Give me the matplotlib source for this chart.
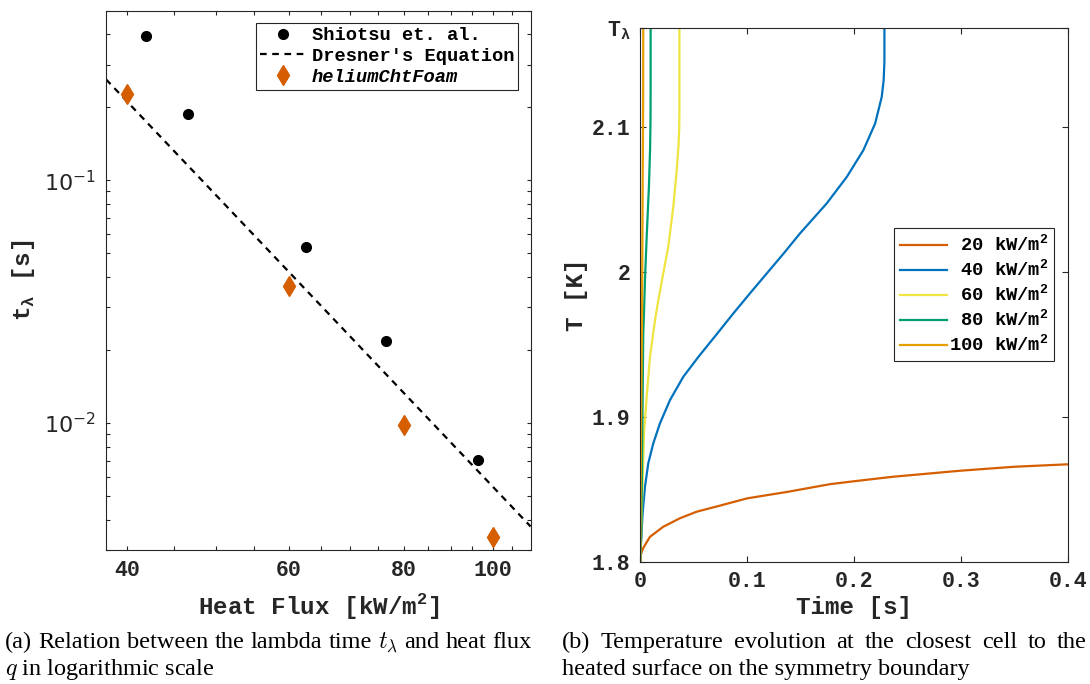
import numpy as np
import matplotlib
matplotlib.use('Agg')
import matplotlib.pyplot as plt
from matplotlib.ticker import FixedLocator, FixedFormatter, NullFormatter, LogLocator

# ---- (a) lambda time vs heat flux ----
shiotsu_q = [41.9, 46.6, 62.6, 76.6, 96.5]
shiotsu_t = [0.395, 0.187, 0.0531, 0.0218, 0.00702]
dresner_q = [37.9, 110.0]
dresner_t = [0.261, 0.00375]
foam_q = [40, 60, 80, 100]
foam_t = [0.228, 0.0366, 0.0098, 0.00341]

# ---- (b) temperature at closest cell ----
t20 = [0, 0.0002, 0.001, 0.0025, 0.0044, 0.0091, 0.0215, 0.0372, 0.0528, 0.0736, 0.1,
       0.1387, 0.1776, 0.2, 0.2363, 0.3, 0.35, 0.4]
T20 = [1.800, 1.803, 1.806, 1.809, 1.8115, 1.8172, 1.8241, 1.830, 1.8345, 1.8385, 1.8437,
       1.8483, 1.8535, 1.8555, 1.8586, 1.8628, 1.8655, 1.8672]
t40 = [0, 0.0004, 0.0013, 0.0022, 0.0044, 0.0075, 0.0122, 0.0184, 0.0278, 0.0403, 0.0545,
       0.0705, 0.0871, 0.1025, 0.1184, 0.1340, 0.1495, 0.1745, 0.1933, 0.2088, 0.2198,
       0.226, 0.2278, 0.2285, 0.2285]
T40 = [1.800, 1.810, 1.8219, 1.8334, 1.8517, 1.8679, 1.8817, 1.8954, 1.9115, 1.9276, 1.9414,
       1.9560, 1.9713, 1.9850, 1.9989, 2.0125, 2.0265, 2.0472, 2.0655, 2.0839, 2.1023,
       2.1207, 2.1322, 2.145, 2.168]
t60 = [0, 0.0004, 0.0013, 0.0022, 0.0035, 0.006, 0.0091, 0.0138, 0.0169, 0.0215, 0.0262,
       0.0309, 0.0341, 0.0358, 0.0365, 0.0366, 0.0366]
T60 = [1.8, 1.812, 1.8305, 1.854, 1.8886, 1.9138, 1.9414, 1.9667, 1.9805, 1.9989, 2.0172,
       2.0448, 2.070, 2.087, 2.100, 2.11, 2.168]
t80 = [0, 0.0009, 0.0016, 0.0022, 0.0028, 0.0035, 0.0044, 0.006, 0.0081, 0.0092, 0.0096,
       0.0097, 0.0097]
T80 = [1.8, 1.818, 1.8655, 1.9115, 1.9575, 1.972, 1.9943, 2.0241, 2.0586, 2.085, 2.105,
       2.13, 2.168]
t100 = [0, 0.0008, 0.0016, 0.0022, 0.0027, 0.0028]
T100 = [1.8, 1.90, 1.9667, 2.05, 2.12, 2.168]

flux_labels = [' 20 kW/m$^{\\mathregular{2}}$', ' 40 kW/m$^{\\mathregular{2}}$',
               ' 60 kW/m$^{\\mathregular{2}}$', ' 80 kW/m$^{\\mathregular{2}}$',
               '100 kW/m$^{\\mathregular{2}}$']
flux_colors = ['#D55E00', '#0072BD', '#F0E442', '#009E73', '#E69F00']

T_lambda = 2.168
T_ticks = [1.8, 1.9, 2.0, 2.1, T_lambda]
T_ticklabels = ['1.8', '1.9', '2', '2.1', 'T$_{\\mathregular{\\lambda}}$']
time_ticks = [0, 0.1, 0.2, 0.3, 0.4]
time_ticklabels = ['0', '0.1', '0.2', '0.3', '0.4']
q_ticks = [40, 60, 80, 100]
q_minor = [45, 50, 55, 65, 70, 75, 85, 90, 95, 105]

MONO = 'Liberation Mono'
GREY = '#262626'

plt.rcParams['font.family'] = MONO
plt.rcParams['axes.edgecolor'] = GREY
plt.rcParams['axes.linewidth'] = 0.8

fig = plt.figure(figsize=(10.9, 6.84), dpi=100)

# ---------------- left panel ----------------
ax1 = fig.add_axes([0.0972, 0.1959, 0.3896, 0.7884])
ax1.plot(shiotsu_q, shiotsu_t, 'o', color='black', ms=7, label='Shiotsu et. al.')
ax1.plot(dresner_q, dresner_t, '--', color='black', lw=1.6, dashes=(3, 2.5),
         label="Dresner's Equation")
ax1.plot(foam_q, foam_t, 'd', color='#D55E00', ms=10, label='heliumChtFoam')
ax1.set_xscale('log')
ax1.set_yscale('log')
ax1.set_xlim(37.9, 110.0)
ax1.set_ylim(0.003, 0.5)
ax1.xaxis.set_major_locator(FixedLocator(q_ticks))
ax1.xaxis.set_major_formatter(FixedFormatter([str(v) for v in q_ticks]))
ax1.xaxis.set_minor_locator(FixedLocator(q_minor))
ax1.xaxis.set_minor_formatter(NullFormatter())
ax1.yaxis.set_major_locator(FixedLocator([0.01, 0.1]))
ax1.yaxis.set_major_formatter(FixedFormatter(['$10^{-2}$', '$10^{-1}$']))
ax1.yaxis.set_minor_locator(LogLocator(base=10, subs=np.arange(2, 10), numticks=20))
ax1.yaxis.set_minor_formatter(NullFormatter())
ax1.tick_params(which='both', direction='in', top=True, right=True, length=3,
                width=0.8, color=GREY, labelcolor=GREY, labelsize=15.5, pad=7)
for lb in ax1.get_xticklabels():
    lb.set_fontweight('bold')
for lb in ax1.get_yticklabels():
    lb.set_fontfamily('DejaVu Sans')
    lb.set_fontsize(16)
ax1.set_xlabel('Heat Flux [kW/m$^{\\mathregular{2}}$]', fontsize=17.5, color=GREY,
               fontweight='bold')
ax1.xaxis.set_label_coords(0.5, -0.104)
ax1.xaxis.label.set_va('center')
ax1.set_ylabel('t$_{\\mathregular{\\lambda}}$ [s]', fontsize=17.5, color=GREY,
               fontweight='bold')
ax1.yaxis.set_label_coords(-0.193, 0.5)
ax1.yaxis.label.set_va('center')

leg1 = ax1.legend(loc='upper right', bbox_to_anchor=(518 / 1090, 1 - 23.3 / 684),
                  bbox_transform=fig.transFigure, borderaxespad=0, fancybox=False,
                  edgecolor=GREY, framealpha=1, handlelength=2.4,
                  prop={'family': MONO, 'weight': 'bold', 'size': 13.5},
                  handletextpad=0.35, labelspacing=0.2, borderpad=0.2)
leg1.get_frame().set_linewidth(0.8)
leg1.get_texts()[2].set_fontstyle('italic')

# ---------------- right panel ----------------
ax2 = fig.add_axes([0.5874, 0.1788, 0.3921, 0.7798])
series = [(t20, T20), (t40, T40), (t60, T60), (t80, T80), (t100, T100)]
for (tt, TT), lab, col in zip(series, flux_labels, flux_colors):
    ax2.plot(tt, TT, color=col, lw=1.6, label=lab)
ax2.set_xlim(0, 0.4)
ax2.set_ylim(1.8, T_lambda)
ax2.set_xticks(time_ticks)
ax2.set_xticklabels(time_ticklabels, fontweight='bold')
ax2.set_yticks(T_ticks)
ax2.set_yticklabels(T_ticklabels, fontweight='bold')
ax2.tick_params(direction='in', top=True, right=True, length=4, width=0.8,
                color=GREY, labelcolor=GREY, labelsize=15.5, pad=7)
ax2.set_xlabel('Time [s]', fontsize=17.5, color=GREY, fontweight='bold')
ax2.xaxis.set_label_coords(0.5, -0.085)
ax2.xaxis.label.set_va('center')
ax2.set_ylabel('T [K]', fontsize=17.5, color=GREY, fontweight='bold')
ax2.yaxis.set_label_coords(-0.15, 0.5)
ax2.yaxis.label.set_va('center')

leg2 = ax2.legend(loc='upper right', bbox_to_anchor=(1054.3 / 1090, 1 - 228.3 / 684),
                  bbox_transform=fig.transFigure, borderaxespad=0, fancybox=False,
                  edgecolor=GREY, framealpha=1, handlelength=2.5,
                  prop={'family': MONO, 'weight': 'bold', 'size': 13.5},
                  handletextpad=0.15, labelspacing=0.2, borderpad=0.3)
leg2.get_frame().set_linewidth(0.8)

# ---------------- captions ----------------
SERIF = 'Liberation Serif'
cap = dict(fontfamily=SERIF, fontweight='normal', fontsize=17.5, color='black',
           va='baseline', math_fontfamily='cm')


def justified(x0, x1, y, text):
    # spread the words so the line fills x0..x1 (figure fractions)
    renderer = fig.canvas.get_renderer()
    W = fig.bbox.width
    words = text.split(' ')
    objs = [fig.text(0, y, w, **cap) for w in words]
    widths = [o.get_window_extent(renderer).width for o in objs]
    gap = ((x1 - x0) * W - sum(widths)) / (len(words) - 1)
    x = x0 * W
    for o, w in zip(objs, widths):
        o.set_x(x / W)
        x += w + gap


justified(5 / 1090, 532 / 1090, 1 - 648 / 684,
          '(a) Relation between the lambda time $t_\\lambda$ and heat flux')
fig.text(5 / 1090, 1 - 675 / 684, '$q$ in logarithmic scale', **cap)
justified(562 / 1090, 1087 / 1090, 1 - 648 / 684,
          '(b) Temperature evolution at the closest cell to the')
fig.text(562 / 1090, 1 - 675 / 684, 'heated surface on the symmetry boundary', **cap)

fig.savefig('out.png', dpi=100)
